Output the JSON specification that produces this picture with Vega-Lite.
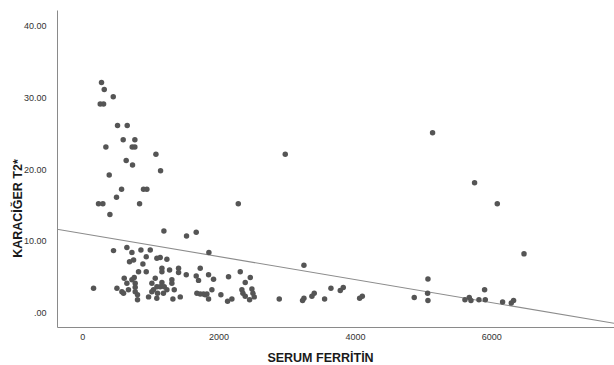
{
  "$schema": "https://vega.github.io/schema/vega-lite/v6.json",
  "width": 557,
  "height": 317,
  "autosize": {"type": "none"},
  "padding": {"left": 57, "top": 10, "right": 0, "bottom": 38},
  "background": "white",
  "config": {
    "view": {"stroke": null},
    "font": "Liberation Sans",
    "axis": {
      "grid": false,
      "ticks": false,
      "domainColor": "#8a8a8a",
      "domainWidth": 1,
      "labelFont": "Liberation Sans",
      "labelFontSize": 9,
      "labelColor": "#333333",
      "titleFont": "Liberation Sans",
      "titleFontSize": 12.5,
      "titleFontWeight": "bold",
      "titleColor": "#1a1a1a"
    }
  },
  "datasets": {
    "pts": [
      {"ferritin": 283, "t2": 32.1}, {"ferritin": 323, "t2": 31.1}, {"ferritin": 455, "t2": 30.1},
      {"ferritin": 264, "t2": 29.1}, {"ferritin": 313, "t2": 29.1}, {"ferritin": 518, "t2": 26.1},
      {"ferritin": 660, "t2": 26.1}, {"ferritin": 601, "t2": 24.1}, {"ferritin": 772, "t2": 24.1},
      {"ferritin": 347, "t2": 23.1}, {"ferritin": 733, "t2": 23.1}, {"ferritin": 772, "t2": 23.1},
      {"ferritin": 1081, "t2": 22.1}, {"ferritin": 645, "t2": 21.2}, {"ferritin": 738, "t2": 20.6},
      {"ferritin": 396, "t2": 19.2}, {"ferritin": 1149, "t2": 19.8}, {"ferritin": 577, "t2": 17.2},
      {"ferritin": 899, "t2": 17.2}, {"ferritin": 948, "t2": 17.2}, {"ferritin": 503, "t2": 16.1},
      {"ferritin": 239, "t2": 15.2}, {"ferritin": 303, "t2": 15.2}, {"ferritin": 841, "t2": 15.2},
      {"ferritin": 406, "t2": 13.7}, {"ferritin": 1198, "t2": 11.4}, {"ferritin": 1530, "t2": 10.7},
      {"ferritin": 1672, "t2": 11.2}, {"ferritin": 2289, "t2": 15.2}, {"ferritin": 2978, "t2": 22.1},
      {"ferritin": 5139, "t2": 25.1}, {"ferritin": 5755, "t2": 18.1}, {"ferritin": 6088, "t2": 15.2},
      {"ferritin": 6480, "t2": 8.2}, {"ferritin": 3252, "t2": 6.6}, {"ferritin": 1858, "t2": 8.4},
      {"ferritin": 2890, "t2": 1.9}, {"ferritin": 3232, "t2": 1.7}, {"ferritin": 3252, "t2": 2.0},
      {"ferritin": 3369, "t2": 2.3}, {"ferritin": 3403, "t2": 2.7}, {"ferritin": 3555, "t2": 1.9},
      {"ferritin": 3648, "t2": 3.4}, {"ferritin": 3785, "t2": 3.1}, {"ferritin": 3829, "t2": 3.5},
      {"ferritin": 4069, "t2": 2.0}, {"ferritin": 4108, "t2": 2.3}, {"ferritin": 4870, "t2": 2.1},
      {"ferritin": 5071, "t2": 4.7}, {"ferritin": 5066, "t2": 2.7}, {"ferritin": 5071, "t2": 1.7},
      {"ferritin": 5614, "t2": 1.8}, {"ferritin": 5677, "t2": 2.1}, {"ferritin": 5702, "t2": 1.7},
      {"ferritin": 5819, "t2": 1.8}, {"ferritin": 5912, "t2": 1.8}, {"ferritin": 5902, "t2": 3.2},
      {"ferritin": 6166, "t2": 1.5}, {"ferritin": 6293, "t2": 1.35}, {"ferritin": 6327, "t2": 1.7},
      {"ferritin": 1731, "t2": 6.2}, {"ferritin": 1672, "t2": 5.1}, {"ferritin": 1706, "t2": 4.5},
      {"ferritin": 1853, "t2": 5.3}, {"ferritin": 1926, "t2": 4.65}, {"ferritin": 2146, "t2": 5.0},
      {"ferritin": 2318, "t2": 5.7}, {"ferritin": 2391, "t2": 4.2}, {"ferritin": 2465, "t2": 4.9},
      {"ferritin": 1682, "t2": 2.7}, {"ferritin": 1731, "t2": 2.6}, {"ferritin": 1779, "t2": 2.6},
      {"ferritin": 1804, "t2": 2.5}, {"ferritin": 1829, "t2": 2.6}, {"ferritin": 1853, "t2": 1.9},
      {"ferritin": 1902, "t2": 3.2}, {"ferritin": 2034, "t2": 2.5}, {"ferritin": 2132, "t2": 1.6},
      {"ferritin": 2195, "t2": 1.9}, {"ferritin": 2342, "t2": 3.2}, {"ferritin": 2357, "t2": 2.7},
      {"ferritin": 2391, "t2": 2.3}, {"ferritin": 2455, "t2": 1.8}, {"ferritin": 2489, "t2": 3.3},
      {"ferritin": 2504, "t2": 2.7}, {"ferritin": 2523, "t2": 2.2},
      {"ferritin": 459, "t2": 8.65}, {"ferritin": 655, "t2": 9.1}, {"ferritin": 729, "t2": 8.4},
      {"ferritin": 861, "t2": 8.75}, {"ferritin": 998, "t2": 8.75}, {"ferritin": 939, "t2": 7.8},
      {"ferritin": 694, "t2": 7.1}, {"ferritin": 753, "t2": 7.35}, {"ferritin": 890, "t2": 6.8},
      {"ferritin": 1095, "t2": 7.6}, {"ferritin": 1144, "t2": 7.7}, {"ferritin": 1242, "t2": 7.45},
      {"ferritin": 826, "t2": 5.7}, {"ferritin": 939, "t2": 5.7}, {"ferritin": 1169, "t2": 6.2},
      {"ferritin": 1169, "t2": 5.7}, {"ferritin": 1281, "t2": 5.95}, {"ferritin": 1413, "t2": 6.2},
      {"ferritin": 1413, "t2": 5.6}, {"ferritin": 1526, "t2": 5.3}, {"ferritin": 166, "t2": 3.4},
      {"ferritin": 509, "t2": 3.4}, {"ferritin": 582, "t2": 2.9}, {"ferritin": 616, "t2": 4.8},
      {"ferritin": 655, "t2": 4.1}, {"ferritin": 729, "t2": 4.6}, {"ferritin": 763, "t2": 4.9},
      {"ferritin": 777, "t2": 4.1}, {"ferritin": 777, "t2": 3.55}, {"ferritin": 777, "t2": 2.9},
      {"ferritin": 811, "t2": 2.5}, {"ferritin": 811, "t2": 1.8}, {"ferritin": 606, "t2": 2.7},
      {"ferritin": 973, "t2": 2.2}, {"ferritin": 1022, "t2": 4.1}, {"ferritin": 1071, "t2": 4.8},
      {"ferritin": 1046, "t2": 3.2}, {"ferritin": 1105, "t2": 2.7}, {"ferritin": 1169, "t2": 4.2},
      {"ferritin": 1203, "t2": 3.6}, {"ferritin": 1242, "t2": 3.2}, {"ferritin": 1315, "t2": 4.6},
      {"ferritin": 1315, "t2": 4.1}, {"ferritin": 1330, "t2": 1.9}, {"ferritin": 1438, "t2": 2.2},
      {"ferritin": 1350, "t2": 3.2}, {"ferritin": 1095, "t2": 3.6}, {"ferritin": 1144, "t2": 3.6},
      {"ferritin": 1191, "t2": 2.7}, {"ferritin": 1021, "t2": 2.9}, {"ferritin": 678, "t2": 3.2},
      {"ferritin": 1094, "t2": 2.0}
    ],
    "fit": [
      {"ferritin": -370, "t2": 11.63},
      {"ferritin": 7800, "t2": -1.48}
    ]
  },
  "layer": [
    {
      "data": {"name": "fit"},
      "mark": {"type": "line", "color": "#8c8c8c", "strokeWidth": 1.1, "clip": true},
      "encoding": {
        "x": {"field": "ferritin", "type": "quantitative"},
        "y": {"field": "t2", "type": "quantitative"}
      }
    },
    {
      "data": {"name": "pts"},
      "mark": {"type": "circle", "color": "#555555", "opacity": 1, "size": 30},
      "encoding": {
        "x": {
          "field": "ferritin",
          "type": "quantitative",
          "scale": {"domain": [-370, 7800], "nice": false, "zero": false},
          "axis": {
            "title": "SERUM FERRİTİN",
            "values": [0, 2000, 4000, 6000],
            "format": "d",
            "labelPadding": 5,
            "titleX": 263,
            "titleY": 30.5,
            "titleBaseline": "middle",
            "titleAnchor": null
          }
        },
        "y": {
          "field": "t2",
          "type": "quantitative",
          "scale": {"domain": [-2, 42.2], "nice": false, "zero": false},
          "axis": {
            "title": "KARACİĞER T2*",
            "values": [0, 10, 20, 30, 40],
            "labelExpr": "datum.value == 0 ? '.00' : format(datum.value, '.2f')",
            "labelPadding": 11,
            "titleX": -40,
            "titleY": 198,
            "titleBaseline": "middle",
            "titleAlign": "center"
          }
        }
      }
    }
  ]
}
